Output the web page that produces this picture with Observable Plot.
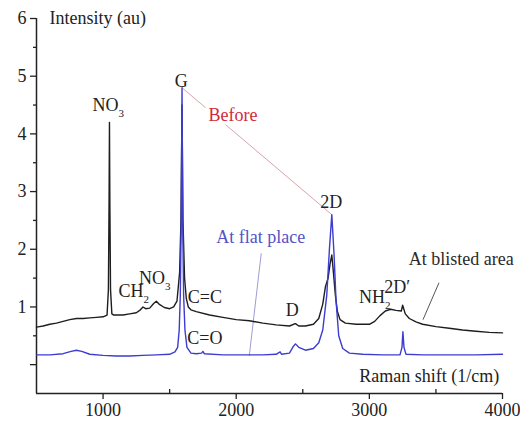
<!DOCTYPE html>
<html><head><meta charset="utf-8">
<script src="https://cdn.jsdelivr.net/npm/d3@7"></script>
<script src="https://cdn.jsdelivr.net/npm/@observablehq/plot@0.6"></script>
<style>body{margin:0;background:#fff} svg, svg text{font-family:"Liberation Serif","Times New Roman",Tinos,"DejaVu Serif","Noto Serif",serif !important}</style>
</head><body><div id="chart"></div>
<script>
// "At blisted area" spectrum (black)
const blistedX = [500,550,600,650,700,750,800,850,900,950,1000,1030,1040,1045,1048,1051,1056,1066,1080,1150,1200,1250,1280,1300,1320,1350,1380,1400,1420,1460,1500,1530,1555,1575,1585,1593,1600,1612,1625,1640,1660,1700,1800,1900,2000,2100,2200,2300,2400,2430,2445,2470,2520,2580,2620,2650,2670,2690,2705,2718,2730,2745,2760,2780,2820,2900,3000,3040,3080,3120,3160,3200,3240,3250,3258,3270,3300,3350,3400,3500,3600,3700,3800,3900,4000];
const blistedY = [0.65,0.67,0.70,0.72,0.75,0.78,0.80,0.80,0.81,0.82,0.83,0.86,1.3,2.8,4.2,2.8,1.3,0.88,0.86,0.86,0.88,0.90,0.95,1.00,0.97,0.98,1.06,1.10,1.05,0.99,0.97,1.00,1.1,1.6,2.5,4.5,2.5,1.5,1.15,1.0,0.95,0.92,0.86,0.82,0.78,0.76,0.72,0.69,0.67,0.70,0.71,0.67,0.67,0.70,0.80,1.05,1.35,1.5,1.75,1.9,1.6,1.2,0.92,0.78,0.72,0.70,0.70,0.75,0.85,0.93,0.96,0.94,0.93,1.03,0.97,0.88,0.80,0.74,0.70,0.66,0.63,0.60,0.58,0.56,0.55];
// "At flat place" spectrum (blue)
const flatX = [500,600,700,760,800,840,900,1000,1100,1200,1300,1400,1500,1540,1560,1572,1580,1587,1593,1598,1605,1615,1630,1660,1700,1740,1750,1760,1900,2000,2100,2200,2300,2330,2340,2400,2430,2445,2470,2520,2580,2620,2650,2680,2700,2718,2735,2750,2770,2800,2850,2950,3100,3230,3245,3252,3260,3275,3400,3600,3800,4000];
const flatY = [0.17,0.17,0.19,0.23,0.25,0.23,0.18,0.16,0.15,0.15,0.16,0.17,0.18,0.22,0.3,0.6,1.2,2.5,4.8,2.5,1.2,0.6,0.3,0.2,0.19,0.2,0.23,0.19,0.17,0.17,0.17,0.17,0.18,0.22,0.18,0.2,0.32,0.36,0.3,0.25,0.28,0.38,0.6,1.2,2.0,2.6,1.9,1.1,0.5,0.28,0.2,0.18,0.17,0.17,0.3,0.57,0.3,0.18,0.17,0.17,0.17,0.18];

const xTicks = [1000,2000,3000,4000];
const xMinorTicks = [1500,2500,3500];
const yTicks = [0,1,2,3,4,5,6];
const yMinorTicks = [0.5,1.5,2.5,3.5,4.5,5.5];

// centred peak labels
const peakText = ["G","2D","C=C","C=O","D","2D\u2032"];
const peakX = [1588,2713,1765,1765,2420,3210];
const peakY = [4.92,2.82,1.16,0.45,0.94,1.34];
// labels with subscripts: main part ends at x, subscript starts there
const subMain = ["NO","CH","NO","NH"];
const subSub = ["3","2","3","2"];
const subX = [1115,1303,1465,3118];
const subY = [4.49,1.27,1.5,1.16];

// series names and leader lines
const seriesText = ["Before","At flat place","At blisted area"];
const seriesColor = ["#d42a3a","#5454c4","#2a2a2a"];
const seriesX = [1975,2185,3690];
const seriesY = [4.33,2.2,1.82];
const leadX1 = [1593,2098,3403];
const leadY1 = [4.8,0.15,0.78];
const leadX2 = [2718,2188,3523];
const leadY2 = [2.6,1.93,1.42];
const leadColor = ["#d9a3ab","#9c9cd4","#555555"];

const axisTitles = ["Intensity (au)","Raman shift (1/cm)"];

const black = blistedX.map((x,i)=>({x, y: blistedY[i]}));
const blue = flatX.map((x,i)=>({x, y: flatY[i]}));
const ink = "#222";
const ff = "Liberation Serif, Times New Roman, DejaVu Serif, serif";
const fs = 18;

const chart = Plot.plot({
  width: 520, height: 428,
  marginLeft: 36, marginRight: 18, marginTop: 18, marginBottom: 35,
  x: {domain: [500, 4000]},
  y: {domain: [-0.5, 6]},
  style: {fontSize: "18px", color: ink, background: "#fff"},
  marks: [
    Plot.ruleX([500], {stroke: ink, strokeWidth: 1.5}),
    Plot.ruleY([-0.5], {stroke: ink, strokeWidth: 1.5}),
    Plot.axisX(xTicks, {label: null, tickSize: 6, tickPadding: 4, fontSize: fs, fontFamily: ff, stroke: ink, strokeWidth: 1.3, fill: ink, tickFormat: d => String(d)}),
    Plot.axisX(xMinorTicks, {label: null, tickSize: 4, dy: -4, tickFormat: () => "", stroke: ink, strokeWidth: 1.3}),
    Plot.axisY(yTicks, {label: null, tickSize: 6, tickPadding: 4, fontSize: fs, fontFamily: ff, stroke: ink, strokeWidth: 1.3, fill: ink, tickFormat: d => d === 0 ? "" : String(d)}),
    Plot.axisY(yMinorTicks, {label: null, tickSize: 3, tickFormat: () => "", stroke: ink, strokeWidth: 1.3}),
    Plot.link(leadX1.map((d,i)=>i), {x1: i=>leadX1[i], y1: i=>leadY1[i], x2: i=>leadX2[i], y2: i=>leadY2[i], stroke: i=>leadColor[i], strokeWidth: 1}),
    Plot.line(black, {x: "x", y: "y", stroke: "#1e1e1e", strokeWidth: 1.4}),
    Plot.line(blue, {x: "x", y: "y", stroke: "#3c3cd0", strokeWidth: 1.4}),
    Plot.text(seriesText, {x: (d,i)=>seriesX[i], y: (d,i)=>seriesY[i], text: d=>d, fill: (d,i)=>seriesColor[i], fontSize: fs, fontFamily: ff, stroke: "white", strokeWidth: 7, paintOrder: "stroke"}),
    Plot.text(peakText, {x: (d,i)=>peakX[i], y: (d,i)=>peakY[i], text: d=>d, fill: ink, fontSize: fs, fontFamily: ff}),
    Plot.text(subMain, {x: (d,i)=>subX[i], y: (d,i)=>subY[i], text: d=>d, fill: ink, fontSize: fs, fontFamily: ff, textAnchor: "end"}),
    Plot.text(subSub, {x: (d,i)=>subX[i], y: (d,i)=>subY[i], text: d=>d, fill: ink, fontSize: 11, fontFamily: ff, textAnchor: "start", dy: 8}),
    Plot.text([axisTitles[0]], {x: 597, y: 6, text: d=>d, fill: ink, fontSize: fs, fontFamily: ff, textAnchor: "start"}),
    Plot.text([axisTitles[1]], {x: 3975, y: -0.2, text: d=>d, fill: ink, fontSize: fs, fontFamily: ff, textAnchor: "end"})
  ]
});
document.getElementById("chart").appendChild(chart);
</script>
</body></html>
